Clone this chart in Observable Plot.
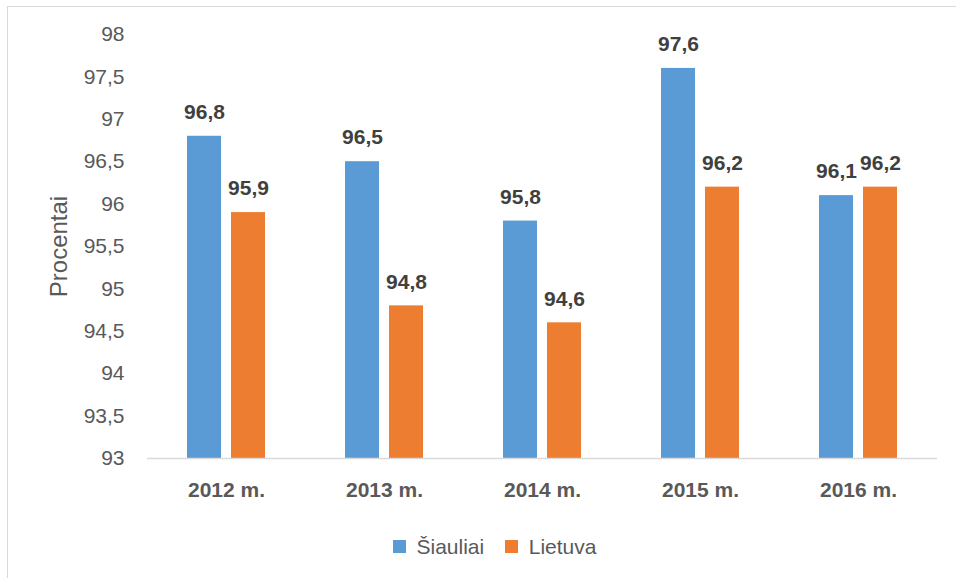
<!DOCTYPE html>
<html>
<head>
<meta charset="utf-8">
<script src="https://cdn.jsdelivr.net/npm/d3@7"></script>
<script src="https://cdn.jsdelivr.net/npm/@observablehq/plot@0.6"></script>
<style>
  html, body { margin: 0; padding: 0; background: #fff; overflow: hidden; width: 956px; height: 578px; }
  #wrap { position: relative; width: 956px; height: 578px; font-family: "Liberation Sans", Arial, sans-serif; }
  #frame { position: absolute; left: 7px; top: 6px; width: 2000px; height: 2000px; border: 1.5px solid #d9d9d9; box-sizing: border-box; }
  #chart { position: absolute; left: 0; top: 0; }
  #legend { position: absolute; left: 393px; top: 530px; }
  g[aria-label="y-axis label"] text { font-size: 24px; }
</style>
</head>
<body>
<div id="wrap">
  <div id="frame"></div>
  <div id="chart"></div>
  <div id="legend"></div>
</div>
<script>
const years = ["2012 m.", "2013 m.", "2014 m.", "2015 m.", "2016 m."];
const series = ["Šiauliai", "Lietuva"];
const siauliai = [96.8, 96.5, 95.8, 97.6, 96.1];
const lietuva = [95.9, 94.8, 94.6, 96.2, 96.2];
const colors = ["#5B9BD5", "#ED7D31"];
const yDomain = [93, 98];
const yTicks = [93, 93.5, 94, 94.5, 95, 95.5, 96, 96.5, 97, 97.5, 98];

const data = [];
years.forEach((y, i) => {
  data.push({year: y, series: series[0], value: siauliai[i]});
  data.push({year: y, series: series[1], value: lietuva[i]});
});
const fmt = d => String(d).replace(".", ",");

const chart = Plot.plot({
  width: 956,
  height: 525,
  marginLeft: 146,
  marginRight: 19,
  marginTop: 34,
  marginBottom: 67,
  style: {fontFamily: "'Liberation Sans', Arial, sans-serif", background: "transparent"},
  fx: {domain: years, padding: 0, label: null, axis: null},
  x: {domain: series, axis: null, paddingInner: 0.222, paddingOuter: 0.869},
  y: {domain: yDomain, label: null, axis: null},
  color: {domain: series, range: colors},
  marks: [
    Plot.barY(data, {fx: "year", x: "series", y1: yDomain[0], y2: "value", fill: "series"}),
    Plot.ruleY([yDomain[0]], {stroke: "#d9d9d9", strokeWidth: 1.5}),
    Plot.text(data, {fx: "year", x: "series", y: "value", text: d => fmt(d.value), dy: -24,
      fontSize: 21, fontWeight: "bold", fill: "#404040", lineAnchor: "middle"}),
    Plot.axisY({ticks: yTicks, tickFormat: fmt, tickSize: 0, tickPadding: 23, fontSize: 21,
      color: "#595959", label: "Procentai", labelAnchor: "center", labelArrow: "none", labelOffset: 98}),
    Plot.axisFx({anchor: "bottom", tickSize: 0, tickPadding: 24, fontSize: 21, fontWeight: "bold",
      color: "#595959", label: null})
  ]
});
document.getElementById("chart").appendChild(chart);

const legend = Plot.legend({
  color: {domain: series, range: colors},
  legend: "swatches",
  swatchSize: 13,
  style: {fontFamily: "'Liberation Sans', Arial, sans-serif", fontSize: "21px", color: "#595959"}
});
document.getElementById("legend").appendChild(legend);
</script>
</body>
</html>
